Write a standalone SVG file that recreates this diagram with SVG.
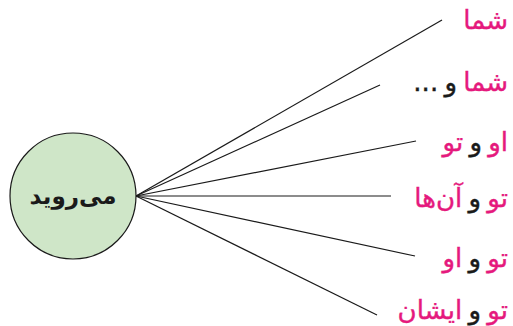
<svg xmlns="http://www.w3.org/2000/svg" width="513" height="326" viewBox="0 0 513 326">
<style>
.lbl{font-family:"DejaVu Sans","Noto Sans",sans-serif;font-size:26px;direction:rtl;unicode-bidi:embed;text-anchor:start;fill:#1a1a1a;stroke:#1a1a1a;stroke-width:0.4;word-spacing:-2px}
.p{fill:#e5197d;stroke:#e5197d}
.c{stroke:#1a1a1a;stroke-width:1.2;fill:none}
</style>
<rect width="513" height="326" fill="#ffffff"/>
<g id="connectors">
<line class="c" x1="136" y1="196" x2="442" y2="20"/>
<line class="c" x1="136" y1="196" x2="380" y2="85"/>
<line class="c" x1="136" y1="196" x2="416" y2="141"/>
<line class="c" x1="136" y1="196" x2="391" y2="196"/>
<line class="c" x1="136" y1="196" x2="415" y2="256"/>
<line class="c" x1="136" y1="196" x2="377" y2="315"/>
</g>
<g id="center">
<circle cx="73" cy="196" r="63" fill="#cfe6c8" stroke="#1a1a1a" stroke-width="1.2"/>
<text x="73" y="204" font-family="DejaVu Sans, sans-serif" font-size="23" font-weight="bold" text-anchor="middle" fill="#1a1a1a">می‌روید</text>
</g>
<g id="n1"><text class="lbl" x="508" y="29"><tspan class="p">شما</tspan></text></g>
<g id="n2"><text class="lbl" x="508" y="91"><tspan class="p">شما</tspan> و ...</text></g>
<g id="n3"><text class="lbl" x="508" y="151"><tspan class="p">او</tspan> و <tspan class="p">تو</tspan></text></g>
<g id="n4"><text class="lbl" x="508" y="207"><tspan class="p">تو</tspan> و <tspan class="p">آن‌ها</tspan></text></g>
<g id="n5"><text class="lbl" x="508" y="267"><tspan class="p">تو</tspan> و <tspan class="p">او</tspan></text></g>
<g id="n6"><text class="lbl" x="508" y="319"><tspan class="p">تو</tspan> و <tspan class="p">ایشان</tspan></text></g>
</svg>
